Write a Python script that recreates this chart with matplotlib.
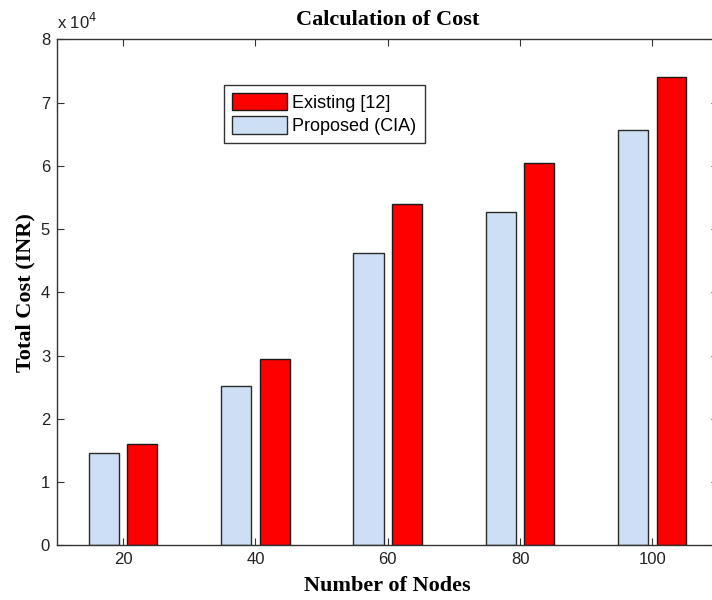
import matplotlib
matplotlib.use("Agg")
import matplotlib.pyplot as plt
import numpy as np
from matplotlib.ticker import FuncFormatter, MultipleLocator

nodes = [20, 40, 60, 80, 100]
proposed_cia = [14600, 25200, 46200, 52700, 65600]
existing_12 = [16000, 29400, 54000, 60500, 74000]

fig = plt.figure(figsize=(7.12, 6.0), dpi=100)
ax = fig.add_axes([0.0801, 0.0912, 0.929, 0.8433])

x = np.array(nodes, dtype=float)
b_prop = ax.bar(x - 2.9, proposed_cia, width=4.6, color="#cddff5",
                edgecolor="#2a2a2a", linewidth=1.0, label="Proposed (CIA)")
b_exist = ax.bar(x + 2.9, existing_12, width=4.5, color="#ff0000",
                 edgecolor="#1a1a1a", linewidth=1.0, label="Existing [12]")

ax.set_xlim(10, 110)
ax.set_ylim(0, 80000)
ax.set_xticks(nodes)
ax.yaxis.set_major_locator(MultipleLocator(10000))
ax.yaxis.set_major_formatter(FuncFormatter(lambda v, p: f"{v / 1e4:g}"))

TICK_SIZE = 12
for lab in ax.get_xticklabels() + ax.get_yticklabels():
    lab.set_fontfamily("Liberation Sans")
    lab.set_fontsize(TICK_SIZE)

ax.tick_params(direction="in", length=5, width=0.8, top=True, right=True,
               colors="#333333", labelcolor="#222222", pad=5)
for s in ax.spines.values():
    s.set_color("#333333")
    s.set_linewidth(1.0)

serif = dict(family="Liberation Serif", weight="bold", size=16)
ax.set_title("Calculation of Cost", pad=10, **serif)
ax.set_xlabel("Number of Nodes", labelpad=6, **serif)
ax.set_ylabel("Total Cost (INR)", labelpad=4, **serif)

fig.text(0.080, 0.947, "x 10$^{4}$", fontfamily="Liberation Sans",
         fontsize=TICK_SIZE, color="#222222", ha="left", va="bottom")

leg = ax.legend([b_exist, b_prop], ["Existing [12]", "Proposed (CIA)"],
                loc="upper left", bbox_to_anchor=(224 / 712, 1 - 85 / 600),
                bbox_transform=fig.transFigure,
                prop=dict(family="Liberation Sans", size=13),
                handlelength=3.05, handleheight=1.1, handletextpad=0.28,
                labelspacing=0.25, borderpad=0.45, borderaxespad=0,
                fancybox=False, framealpha=1, edgecolor="#333333")
leg.get_frame().set_linewidth(1.0)

fig.savefig("out.png", dpi=100, facecolor="white")
